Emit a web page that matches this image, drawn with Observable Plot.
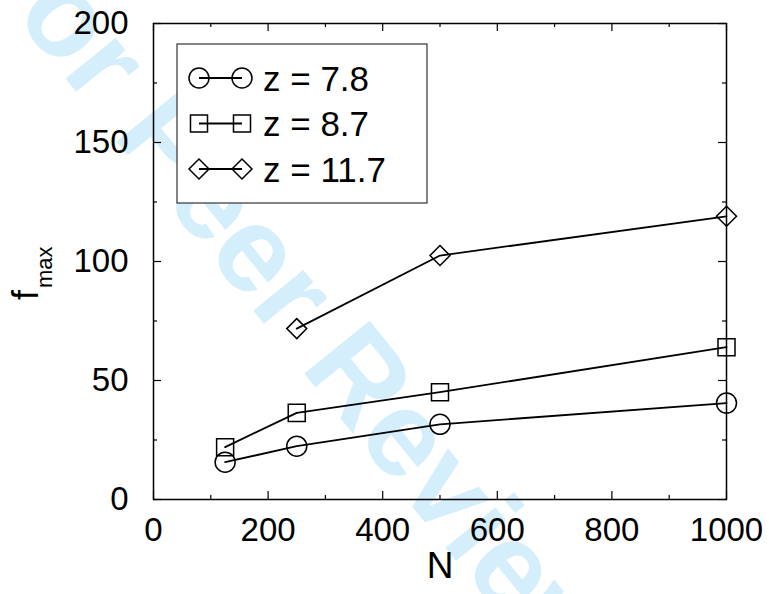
<!DOCTYPE html>
<html>
<head>
<meta charset="utf-8">
<script src="https://cdn.jsdelivr.net/npm/d3@7"></script>
<script src="https://cdn.jsdelivr.net/npm/@observablehq/plot@0.6"></script>
<style>
  html, body { margin: 0; padding: 0; background: #fff; }
  #chart { position: relative; width: 769px; height: 594px; }
  svg { font-family: "Liberation Sans", Arial, Helvetica, sans-serif; }
</style>
</head>
<body>
<div id="chart"></div>
<script>
// ---- data ----
const seriesLabels = ["z = 7.8", "z = 8.7", "z = 11.7"];
const nValues = [125, 250, 500, 1000];
const fmax78 = [15.7, 22.4, 31.6, 40.5];
const fmax87 = [22.0, 36.4, 45.1, 64.0];
const fmax117 = [null, 71.8, 102.5, 119.0];
const xTicks = [0, 200, 400, 600, 800, 1000];
const xMinorTicks = [100, 300, 500, 700, 900];
const yTicks = [0, 50, 100, 150, 200];
const yMinorTicks = [25, 75, 125, 175];
const watermark = "For Peer Review";

const seriesValues = [fmax78, fmax87, fmax117];
const data = [];
seriesValues.forEach((vals, i) => {
  vals.forEach((v, j) => {
    if (v != null) data.push({series: seriesLabels[i], N: nValues[j], f: v});
  });
});

const symbols = ["circle", "square", "diamond2"];
const symbolR = {"z = 7.8": 10, "z = 8.7": 9.6, "z = 11.7": 9};

const W = 769, H = 594;
const mL = 153, mR = 43, mT = 23, mB = 95;
const frameH = H - mT - mB;
const frameW = W - mL - mR;
const font = "Liberation Sans, Arial, Helvetica, sans-serif";

const chart = Plot.plot({
  width: W,
  height: H,
  marginLeft: mL,
  marginRight: mR,
  marginTop: mT,
  marginBottom: mB,
  style: {fontFamily: font, background: "white", color: "black"},
  x: {domain: [0, 1000]},
  y: {domain: [0, 200]},
  symbol: {domain: seriesLabels, range: symbols},
  r: {type: "identity"},
  marks: [
    Plot.text([watermark], {
      frameAnchor: "top-left", dx: 142, dy: 277,
      text: d => d, rotate: 51, fontSize: 122, fontWeight: "bold",
      fill: "#d4eefb", textAnchor: "middle", lineAnchor: "middle"
    }),
    // inward ticks on all four sides
    Plot.tickX(xTicks, {x: d => d, insetTop: frameH - 8, stroke: "black", strokeWidth: 1.2}),
    Plot.tickX(xTicks, {x: d => d, insetBottom: frameH - 8, stroke: "black", strokeWidth: 1.2}),
    Plot.tickX(xMinorTicks, {x: d => d, insetTop: frameH - 4, stroke: "black", strokeWidth: 1.2}),
    Plot.tickX(xMinorTicks, {x: d => d, insetBottom: frameH - 4, stroke: "black", strokeWidth: 1.2}),
    Plot.tickY(yTicks, {y: d => d, insetRight: frameW - 8, stroke: "black", strokeWidth: 1.2}),
    Plot.tickY(yTicks, {y: d => d, insetLeft: frameW - 8, stroke: "black", strokeWidth: 1.2}),
    Plot.tickY(yMinorTicks, {y: d => d, insetRight: frameW - 4, stroke: "black", strokeWidth: 1.2}),
    Plot.tickY(yMinorTicks, {y: d => d, insetLeft: frameW - 4, stroke: "black", strokeWidth: 1.2}),
    Plot.frame({stroke: "black", strokeWidth: 1.5}),
    Plot.axisX({ticks: xTicks, tickSize: 0, tickPadding: 18, fontSize: 33, label: null, tickFormat: d => String(d)}),
    Plot.axisY({ticks: yTicks, tickSize: 0, tickPadding: 25, fontSize: 33, label: null, tickFormat: d => String(d)}),
    Plot.text(["N"], {frameAnchor: "bottom", dy: 78, text: d => d, fontSize: 37, fill: "black"}),
    Plot.line(data, {x: "N", y: "f", z: "series", stroke: "black", strokeWidth: 1.8}),
    Plot.dot(data, {x: "N", y: "f", symbol: "series", r: d => symbolR[d.series], stroke: "black", fill: "none", strokeWidth: 1.5})
  ]
});

document.getElementById("chart").appendChild(chart);

const svg = d3.select(chart);

// y-axis label f_max
const yl = svg.append("text")
  .attr("transform", "translate(38,300) rotate(-90)")
  .attr("text-anchor", "start")
  .attr("fill", "black")
  .style("font-family", font);
yl.append("tspan").attr("font-size", 36).text("f");
yl.append("tspan").attr("font-size", 22).attr("dy", 14).attr("dx", 2).text("max");

// legend box
const lg = svg.append("g").attr("transform", "translate(177,44)");
lg.append("rect").attr("x", 0).attr("y", 0).attr("width", 250).attr("height", 159)
  .attr("fill", "white").attr("stroke", "#333").attr("stroke-width", 1.2);
const symGen = {
  "circle": d3.symbol(d3.symbolCircle, Math.PI * 100),
  "square": d3.symbol(d3.symbolSquare, Math.PI * 9.6 * 9.6),
  "diamond2": d3.symbol(d3.symbolDiamond2, Math.PI * 81)
};
seriesLabels.forEach((label, i) => {
  const row = lg.append("g").attr("transform", `translate(0,${34 + i * 45.5})`);
  row.append("line").attr("x1", 22).attr("x2", 65).attr("y1", 0).attr("y2", 0)
    .attr("stroke", "black").attr("stroke-width", 1.8);
  [22, 65].forEach(cx => {
    row.append("path").attr("d", symGen[symbols[i]]()).attr("transform", `translate(${cx},0)`)
      .attr("fill", "none").attr("stroke", "black").attr("stroke-width", 1.5);
  });
  row.append("text").attr("x", 86).attr("y", 12.5).attr("font-size", 35)
    .attr("text-anchor", "start")
    .attr("fill", "black").style("font-family", font).text(label);
});
</script>
</body>
</html>
